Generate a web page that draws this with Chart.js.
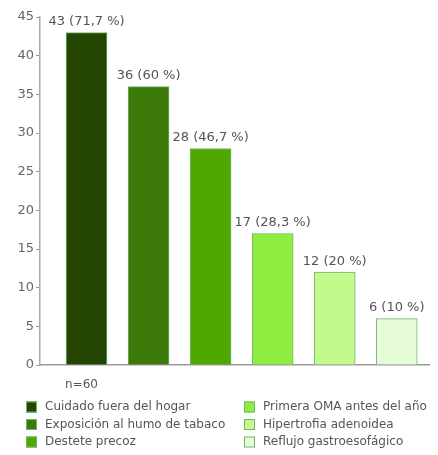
<!DOCTYPE html>
<html>
<head>
<meta charset="utf-8">
<script src="https://cdn.jsdelivr.net/npm/chart.js@4"></script>
<style>
  html, body { margin: 0; padding: 0; background: #fff; }
  #wrap { width: 438px; height: 455px; position: relative; }
</style>
</head>
<body>
<div id="wrap"><canvas id="c"></canvas></div>
<script>
const categories = ["Cuidado fuera del hogar", "Exposición al humo de tabaco", "Destete precoz",
  "Primera OMA antes del año", "Hipertrofia adenoidea", "Reflujo gastroesofágico"];
const counts = [43, 36, 28, 17, 12, 6];
const percents = ["71,7", "60", "46,7", "28,3", "20", "10"];
const yTicks = [0, 5, 10, 15, 20, 25, 30, 35, 40, 45];
const sampleNote = "n=60";

const fills = ["#234500", "#3b7a08", "#4ea800", "#8eed3f", "#c2fb8c", "#e6fcd9"];
const edges = ["#6fb56f", "#6fb56f", "#6fb56f", "#6fb56f", "#6fb56f", "#6fb56f"];
const FONT = "DejaVu Sans, Verdana, sans-serif";

const valueLabels = {
  id: "valueLabels",
  afterDatasetsDraw(chart) {
    const { ctx } = chart;
    const meta = chart.getDatasetMeta(0);
    ctx.save();
    ctx.font = "13px " + FONT;
    ctx.fillStyle = "#555";
    ctx.textAlign = "center";
    ctx.textBaseline = "bottom";
    meta.data.forEach((bar, i) => {
      ctx.fillText(counts[i] + " (" + percents[i] + " %)", bar.x, bar.y - 4);
    });
    ctx.restore();
  }
};

const sideLegend = {
  id: "sideLegend",
  afterDraw(chart) {
    const { ctx } = chart;
    ctx.save();
    ctx.font = "12px " + FONT;
    ctx.fillStyle = "#555";
    ctx.textBaseline = "middle";
    ctx.textAlign = "left";
    ctx.fillText(sampleNote, 65, 385);
    categories.forEach((name, i) => {
      const col = i < 3 ? 0 : 1;
      const row = i % 3;
      const x = col ? 244 : 26;
      const y = 407 + row * 17.5;
      ctx.fillStyle = fills[i];
      ctx.fillRect(x, y - 5.5, 11, 11);
      ctx.strokeStyle = edges[i];
      ctx.lineWidth = 1;
      ctx.strokeRect(x + 0.5, y - 5, 10, 10);
      ctx.fillStyle = "#555";
      ctx.fillText(name, x + 19, y);
    });
    ctx.restore();
  }
};

new Chart(document.getElementById("c"), {
  type: "bar",
  data: {
    datasets: [{
      data: counts.map((v, i) => ({ x: i, y: v })),
      backgroundColor: fills,
      borderColor: edges,
      borderWidth: 1,
      barThickness: 41
    }]
  },
  options: {
    responsive: true,
    maintainAspectRatio: false,
    animation: false,
    layout: { padding: { top: 17, right: 9, bottom: 82, left: 0 } },
    scales: {
      x: {
        type: "linear",
        offset: false,
        min: -0.75,
        max: 5.52,
        ticks: { display: false },
        grid: { display: false },
        border: { display: true, color: "#999", width: 1.5 }
      },
      y: {
        min: 0,
        max: 45,
        afterBuildTicks(scale) { scale.ticks = yTicks.map(v => ({ value: v })); },
        afterFit(scale) { scale.width = 40; },
        ticks: { color: "#666", font: { family: FONT, size: 13 }, padding: 2 },
        grid: { drawOnChartArea: false, tickLength: 4, color: "#999" },
        border: { display: true, color: "#aaa", width: 1.5 }
      }
    },
    plugins: { legend: { display: false }, tooltip: { enabled: false } }
  },
  plugins: [valueLabels, sideLegend]
});
</script>
</body>
</html>
